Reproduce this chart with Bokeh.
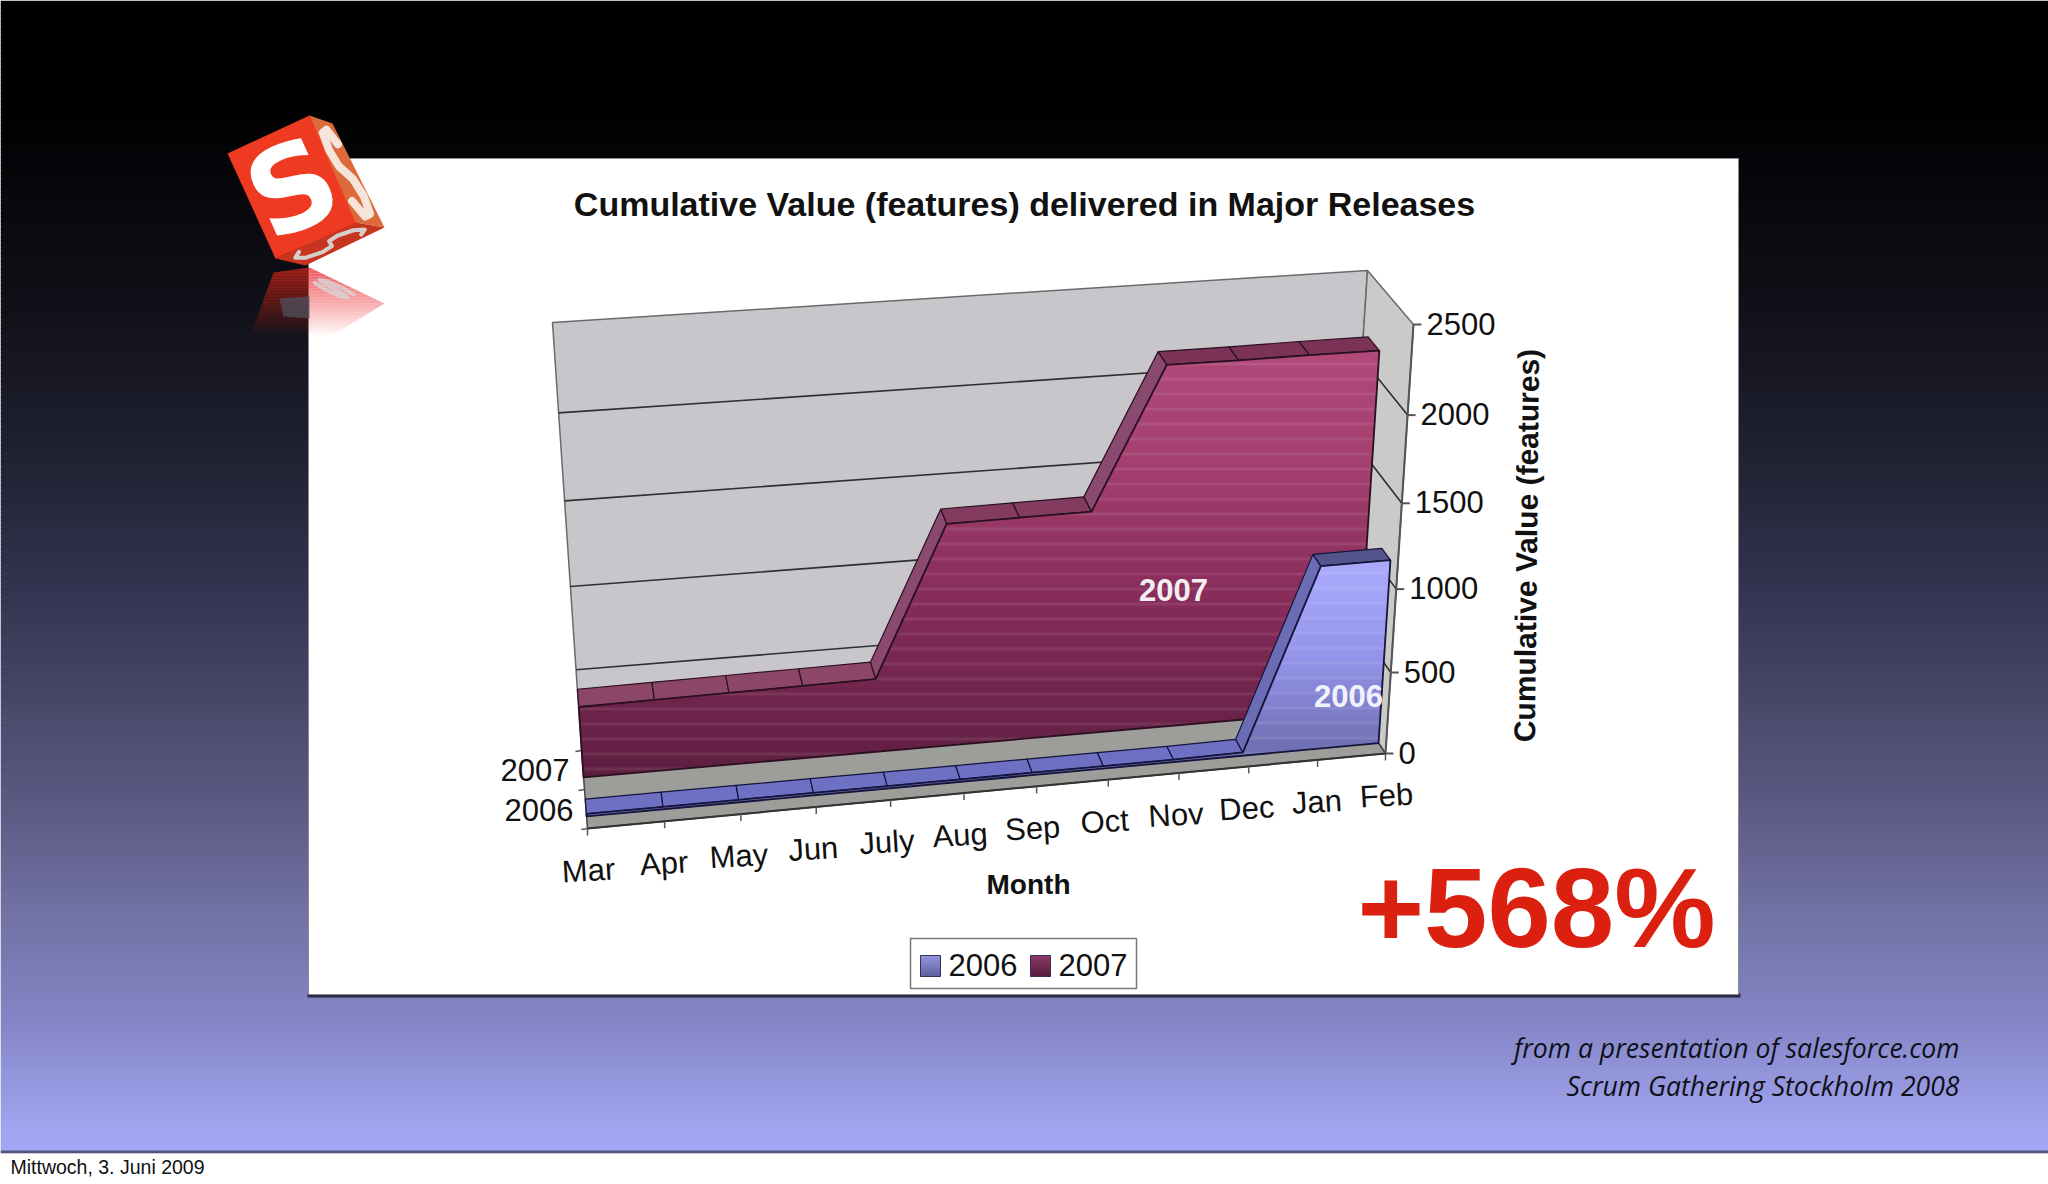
from bokeh.plotting import figure
from bokeh.models import Range1d
from bokeh.core.properties import value
from bokeh.embed import file_html
from bokeh.resources import INLINE

# data
months = ['Mar', 'Apr', 'May', 'Jun', 'July', 'Aug', 'Sep', 'Oct', 'Nov', 'Dec', 'Jan', 'Feb']
values_2006 = [15, 15, 15, 15, 15, 15, 15, 15, 15, 20, 1110, 1115]
values_2007 = [425, 430, 435, 440, 445, 1330, 1335, 1340, 2150, 2150, 2155, 2155]
value_ticks = [0, 500, 1000, 1500, 2000, 2500]
series_names = ['2006', '2007']
value_max = 2500

# the 3d box, picture px: floor then top, front then back
floor_corners = {'fl': (587, 828), 'fr': (1385, 753), 'bl': (581, 750), 'br': (1340, 686)}
top_corners = {'fl': (556, 366), 'fr': (1413, 324), 'bl': (552, 322), 'br': (1367, 270)}
row_2006 = (0.155, 0.345)
row_2007 = (0.655, 0.9)
FONT = 'Liberation Sans'


def mix(a, b, k):
    return a + (b - a) * k


def project(t, d, z):
    # month position 0-1, depth 0-1 (0 = front), value -> screen
    t2 = t + 0.07 * t * (1 - t)
    f = z / value_max
    f2 = f - 0.07 * f * (1 - f)
    out = []
    for n in (0, 1):
        low = mix(mix(floor_corners['fl'][n], floor_corners['fr'][n], t2),
                  mix(floor_corners['bl'][n], floor_corners['br'][n], t2), d)
        high = mix(mix(top_corners['fl'][n], top_corners['fr'][n], t2),
                   mix(top_corners['bl'][n], top_corners['br'][n], t2), d)
        out.append(mix(low, high, f2))
    return out


def pm(i, d, z):
    return project(i / (len(months) - 1), d, z)


def clip_side(pts, y, keep_below):
    res = []
    for n in range(len(pts)):
        a, b = pts[n], pts[(n + 1) % len(pts)]
        ina = a[1] >= y if keep_below else a[1] <= y
        inb = b[1] >= y if keep_below else b[1] <= y
        if ina:
            res.append(a)
        if ina != inb:
            k = (y - a[1]) / (b[1] - a[1])
            res.append((mix(a[0], b[0], k), y))
    return res


def hex_mix(stops, y):
    for (y0, c0), (y1, c1) in zip(stops, stops[1:]):
        if y <= y1:
            k = max(0, (y - y0) / (y1 - y0))
            return tuple(mix(c0[n], c1[n], k) for n in range(3))
    return stops[-1][1]


def to_hex(c, light=0.0):
    c = [mix(v, 255, light) for v in c]
    return '#%02x%02x%02x' % tuple(int(round(v)) for v in c)


p = figure(width=2048, height=1184, output_backend="svg", toolbar_location=None,
           x_range=Range1d(0, 2048), y_range=Range1d(1184, 0),
           min_border=0, outline_line_color=None, background_fill_color='white',
           styles={'position': 'absolute', 'left': '0px', 'top': '0px'})
p.xaxis.visible = False
p.yaxis.visible = False
p.grid.visible = False


def poly(pts, color, line=None, width=1, alpha=1.0):
    p.patch([q[0] for q in pts], [q[1] for q in pts], fill_color=color, fill_alpha=alpha,
            line_color=line, line_width=width)


def gradient_poly(pts, stops, step=3, streak=0.0):
    # horizontal colour bands cut out of a polygon, each one overlapping the next
    top = int(min(q[1] for q in pts))
    bottom = int(max(q[1] for q in pts)) + 1
    xs, ys, colors = [], [], []
    n = 0
    for y in range(top, bottom, step):
        part = clip_side(clip_side(pts, y, True), y + step + 1, False)
        n += 1
        if len(part) < 3:
            continue
        xs.append([q[0] for q in part])
        ys.append([q[1] for q in part])
        colors.append(to_hex(hex_mix(stops, y), streak if n % 5 == 0 else 0))
    p.patches(xs, ys, fill_color=colors, line_color=None)


def txt(x, y, s, size, color='#111111', style='normal', align='center', angle=0, font=FONT, base='middle', alpha=1.0):
    p.text([x], [y], text=[s], text_font=value(font), text_font_size=f'{size}px', text_font_style=style,
           text_color=color, text_align=align, text_baseline=base, angle=angle, text_alpha=alpha)


# slide background
bg_stops = [(0, (0, 0, 0)), (110, (1, 1, 3)), (300, (16, 16, 24)), (465, (34, 35, 52)), (574, (50, 49, 78)),
            (684, (70, 68, 101)), (794, (90, 88, 128)), (903, (112, 112, 162)), (1013, (131, 132, 196)),
            (1123, (160, 163, 238)), (1152, (166, 168, 248))]
ys = list(range(0, 1152, 4))
p.quad(left=0, right=2048, top=ys, bottom=[y + 5 for y in ys],
       fill_color=[to_hex(hex_mix(bg_stops, y)) for y in ys], line_color=None)
p.quad(left=0, right=2048, top=1150, bottom=1153, fill_color='#55557a', line_color=None)
p.quad(left=0, right=2048, top=1153, bottom=1184, fill_color='white', line_color=None)

# white panel
p.quad(left=307, right=1740, top=993, bottom=997, fill_color='#2a2a48', line_color=None)
p.quad(left=308, right=1738, top=158, bottom=994, fill_color='white', line_color='#8a8a8a', line_width=1)

# walls and floor
wall = [project(0, 1, 0), project(1, 1, 0), project(1, 1, value_max), project(0, 1, value_max)]
poly(wall, '#c8c6ca', '#6a6a6a', 1.5)
side = [project(1, 1, 0), project(1, 0, 0), project(1, 0, value_max), project(1, 1, value_max)]
poly(side, '#cacbc8', '#6a6a6a', 1.5)
poly([project(0, 0, 0), project(1, 0, 0), project(1, 1, 0), project(0, 1, 0)], '#9d9e9a', '#444444', 1.5)

for v in value_ticks[1:-1]:
    a, b, c = project(0, 1, v), project(1, 1, v), project(1, 0, v)
    p.line([a[0], b[0], c[0]], [a[1], b[1], c[1]], line_color='#2f2f33', line_width=1.6)

# value axis, ticks and labels
a, b = project(1, 0, 0), project(1, 0, value_max)
p.line([a[0], b[0]], [a[1], b[1]], line_color='#555555', line_width=2)
for v in value_ticks:
    q = project(1, 0, v)
    p.line([q[0], q[0] + 8], [q[1], q[1]], line_color='#555555', line_width=2)
    txt(q[0] + 13, q[1] - 1, str(v), 31, align='left')

# month ticks and labels
a, b = project(0, 0, 0), project(1, 0, 0)
p.line([a[0], b[0]], [a[1], b[1]], line_color='#333333', line_width=2)
for i, m in enumerate(months):
    q = pm(i, 0, 0)
    t = i / (len(months) - 1)
    p.line([q[0], q[0]], [q[1], q[1] + 7], line_color='#555555', line_width=1.5)
    txt(q[0] + 1 - 20 * t * (1 - t), q[1] + 42, m, 31, angle=0.06)

# depth ticks and labels
for d, name in zip((0.25, 0.75), series_names):
    q = project(0, d, 0)
    txt(q[0] - 47 + (0 if name == '2006' else -1), q[1] + (1 if name == '2006' else 0), name, 31)
for d in (0, 0.5, 1):
    q = project(0, d, 0)
    p.line([q[0] - 6, q[0]], [q[1] + 1, q[1]], line_color='#555555', line_width=1.5)


def draw_series(values, row, face_stops, flat_color, rise_color, ridge):
    d0, d1 = row
    last = len(months) - 1
    for i in range(last):
        quad = [pm(i, d0, values[i]), pm(i + 1, d0, values[i + 1]), pm(i + 1, d1, values[i + 1]), pm(i, d1, values[i])]
        rising = values[i + 1] - values[i] > 300
        poly(quad, rise_color if rising else flat_color(values[i]), ridge, 1.2)
    # front face
    top = [tuple(pm(i, d0, values[i])) for i in range(len(months))]
    base = [tuple(pm(last, d0, 0)), tuple(pm(0, d0, 0))]
    face = top + base
    gradient_poly(face, face_stops, streak=0.08)
    p.line([q[0] for q in face + face[:1]], [q[1] for q in face + face[:1]], line_color=ridge, line_width=1.8)


def plum(v):
    return to_hex((mix(144, 122, v / 2200), mix(76, 50, v / 2200), mix(108, 86, v / 2200)))


draw_series(values_2007, row_2007,
            [(345, (178, 74, 124)), (470, (162, 62, 110)), (600, (134, 44, 90)), (780, (92, 30, 64))],
            plum, '#8a4a70', '#2a1020')
draw_series(values_2006, row_2006,
            [(555, (172, 172, 255)), (660, (146, 146, 232)), (760, (106, 106, 170))],
            lambda v: '#6e70c4' if v < 100 else '#54548c', '#6a6cb4', '#14143c')

# labels on the faces
txt(1173, 589, series_names[1], 31, color='#f4eef2', style='bold')
txt(1348, 695, series_names[0], 31, color='#f2f2ff', style='bold')

# titles
txt(1024, 203, 'Cumulative Value (features) delivered in Major Releases', 34, style='bold')
txt(1028, 884, 'Month', 28, style='bold')
txt(1526, 545, 'Cumulative Value (features)', 30, style='bold', angle=1.56)

# legend
p.quad(left=910, right=1136, top=938, bottom=988, fill_color='white', line_color='#777777', line_width=1.5)
for x, tx, name, st in [(920, 948, series_names[0], [(945, (170, 170, 250)), (975, (96, 96, 160))]),
                        (1030, 1058, series_names[1], [(945, (170, 70, 120)), (975, (84, 28, 60))])]:
    gradient_poly([(x, 955), (x + 20, 955), (x + 20, 976), (x, 976)], st, step=2)
    p.line([x, x + 20, x + 20, x, x], [955, 955, 976, 976, 955], line_color='#333355', line_width=1)
    txt(tx, 964, name, 31, align='left')

# big number and notes
txt(1536, 907, '+568%', 114, color='#dc2010', style='bold')
txt(1959, 1047, 'from a presentation of salesforce.com', 26.6, color='#101018', style='italic', align='right', font='Open Sans')
txt(1959, 1085, 'Scrum Gathering Stockholm 2008', 26.6, color='#101018', style='italic', align='right', font='Open Sans')
txt(10, 1166, 'Mittwoch, 3. Juni 2009', 19.5, color='#111111', align='left')

# logo cube
s_path = [(0.82, 0.2), (0.58, 0.07), (0.28, 0.12), (0.18, 0.3), (0.3, 0.45), (0.7, 0.55),
          (0.82, 0.72), (0.7, 0.9), (0.42, 0.94), (0.16, 0.8)]


def face_s(corners, color, width, alpha=1.0):
    # S drawn along a cube face, corners run round the face
    a, b, c, d = corners
    xs, ys = [], []
    for u, v in s_path:
        xs.append(mix(mix(a[0], b[0], u), mix(d[0], c[0], u), v))
        ys.append(mix(mix(a[1], b[1], u), mix(d[1], c[1], u), v))
    p.line(xs, ys, line_color=color, line_width=width, line_alpha=alpha, line_cap='round', line_join='round')


poly([(227, 153), (309, 115), (357, 222), (275, 258)], '#ee3a20')
poly([(309, 115), (332, 123), (384, 227), (355, 222)], '#dc6a3a')
poly([(275, 258), (355, 222), (384, 227), (305, 265)], '#c83420')
txt(292, 188, 'S', 118, color='white', style='bold', angle=0.42, font='DejaVu Sans')
face_s([(311, 118), (331, 125), (382, 225), (357, 220)], '#f4e4da', 8)
face_s([(355, 225), (380, 228), (306, 262), (279, 257)], '#d4d0cc', 4)

# cube reflection, fading out
refl_left = [(309, 267), (273, 272), (250, 335), (309, 335)]
refl_right = [(309, 267), (384, 303), (332, 335), (309, 335)]
for y in range(267, 335, 3):
    fade = 0.85 * (1 - (y - 267) / 68)
    for pts, color in ((refl_left, '#c02418'), (refl_right, '#ee3a40')):
        part = clip_side(clip_side(pts, y, True), y + 3, False)
        if len(part) > 2:
            poly(part, color, alpha=fade)
face_s([(312, 273), (365, 297), (352, 303), (305, 280)], '#d8d4d4', 4, 0.8)
poly([(279, 298), (309, 296), (309, 318), (283, 316)], '#50505c', alpha=0.75)

open("out.html", "w").write(file_html(p, INLINE))
